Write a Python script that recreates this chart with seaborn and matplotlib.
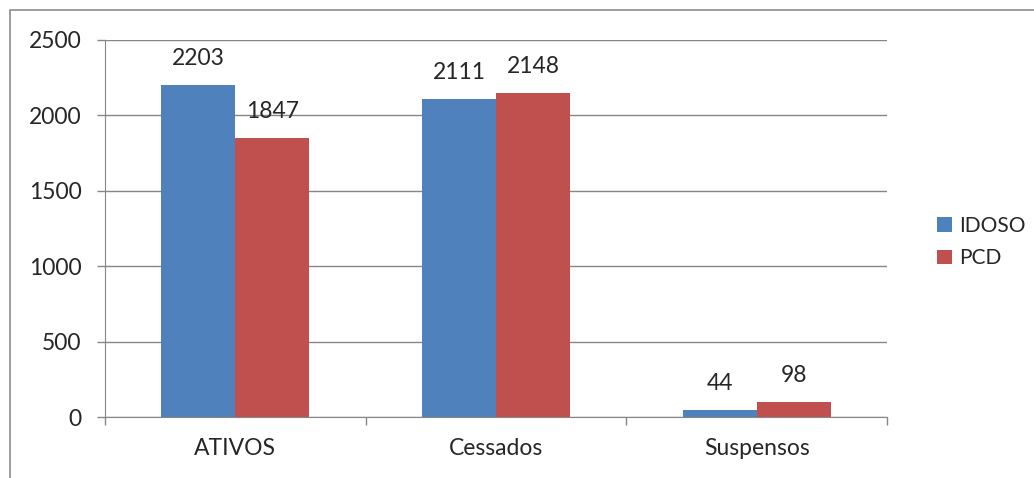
import matplotlib
matplotlib.use("Agg")
import matplotlib.pyplot as plt
import seaborn as sns
import pandas as pd
from matplotlib.patches import Rectangle, Patch

categories = ["ATIVOS", "Cessados", "Suspensos"]
series_names = ["IDOSO", "PCD"]
idoso = [2203, 2111, 44]
pcd = [1847, 2148, 98]
y_ticks = [0, 500, 1000, 1500, 2000, 2500]
colors = ["#4F81BD", "#C0504D"]

df = pd.DataFrame({
    "cat": categories * 2,
    "serie": [series_names[0]] * 3 + [series_names[1]] * 3,
    "val": idoso + pcd,
})

sns.set_style("white")
plt.rcParams["font.family"] = ["Lato", "DejaVu Sans"]
FS = 16.5
LFS = 15

W, H = 1034, 478
fig = plt.figure(figsize=(W / 100, H / 100), dpi=100)
ax = fig.add_axes([105 / W, 1 - 417 / H, (887 - 105) / W, (417 - 40) / H])

sns.barplot(data=df, x="cat", y="val", hue="serie", palette=colors,
            width=0.568, gap=0, ax=ax, legend=False, saturation=1,
            edgecolor="none", linewidth=0)

ax.set_xlim(-0.5, 2.5)
ax.set_ylim(0, 2500)
ax.set_yticks(y_ticks)
ax.set_yticklabels([str(t) for t in y_ticks], fontsize=FS)
ax.set_xlabel("")
ax.set_ylabel("")
ax.set_xticks([0, 1, 2])
ax.set_xticklabels(categories, fontsize=FS)
ax.tick_params(axis="x", length=0, pad=15)
ax.tick_params(axis="y", length=5.8, color="#868686", width=1, pad=11, direction="out", left=True)
# category boundary ticks on x axis
ax.set_xticks([-0.5, 0.5, 1.5, 2.5], minor=True)
ax.tick_params(axis="x", which="minor", length=5.8, color="#868686", width=1, direction="out", bottom=True)

ax.grid(axis="y", color="#868686", linewidth=1)
ax.set_axisbelow(True)
for s in ["top", "right"]:
    ax.spines[s].set_visible(False)
ax.spines["left"].set_color("#868686")
ax.spines["bottom"].set_color("#868686")

for cont in ax.containers:
    for bar in cont:
        h = bar.get_height()
        ax.annotate(f"{int(h)}", (bar.get_x() + bar.get_width() / 2, h),
                    xytext=(0, 16), textcoords="offset pixels",
                    ha="center", va="bottom", fontsize=FS)

handles = [Patch(facecolor=c, edgecolor="none") for c in colors]
fig.legend(handles, series_names, loc="center left",
           bbox_to_anchor=(918 / W, 1 - 242 / H), frameon=False, fontsize=LFS,
           handlelength=0.72, handleheight=0.72, handletextpad=0.35, labelspacing=0.6)

fig.patches.append(Rectangle((10 / W, -0.1), 1.2, 1 - 10 / H + 0.1,
                             transform=fig.transFigure, fill=False,
                             edgecolor="#8c8c8c", linewidth=1.2))

fig.savefig("out.png", dpi=100)
